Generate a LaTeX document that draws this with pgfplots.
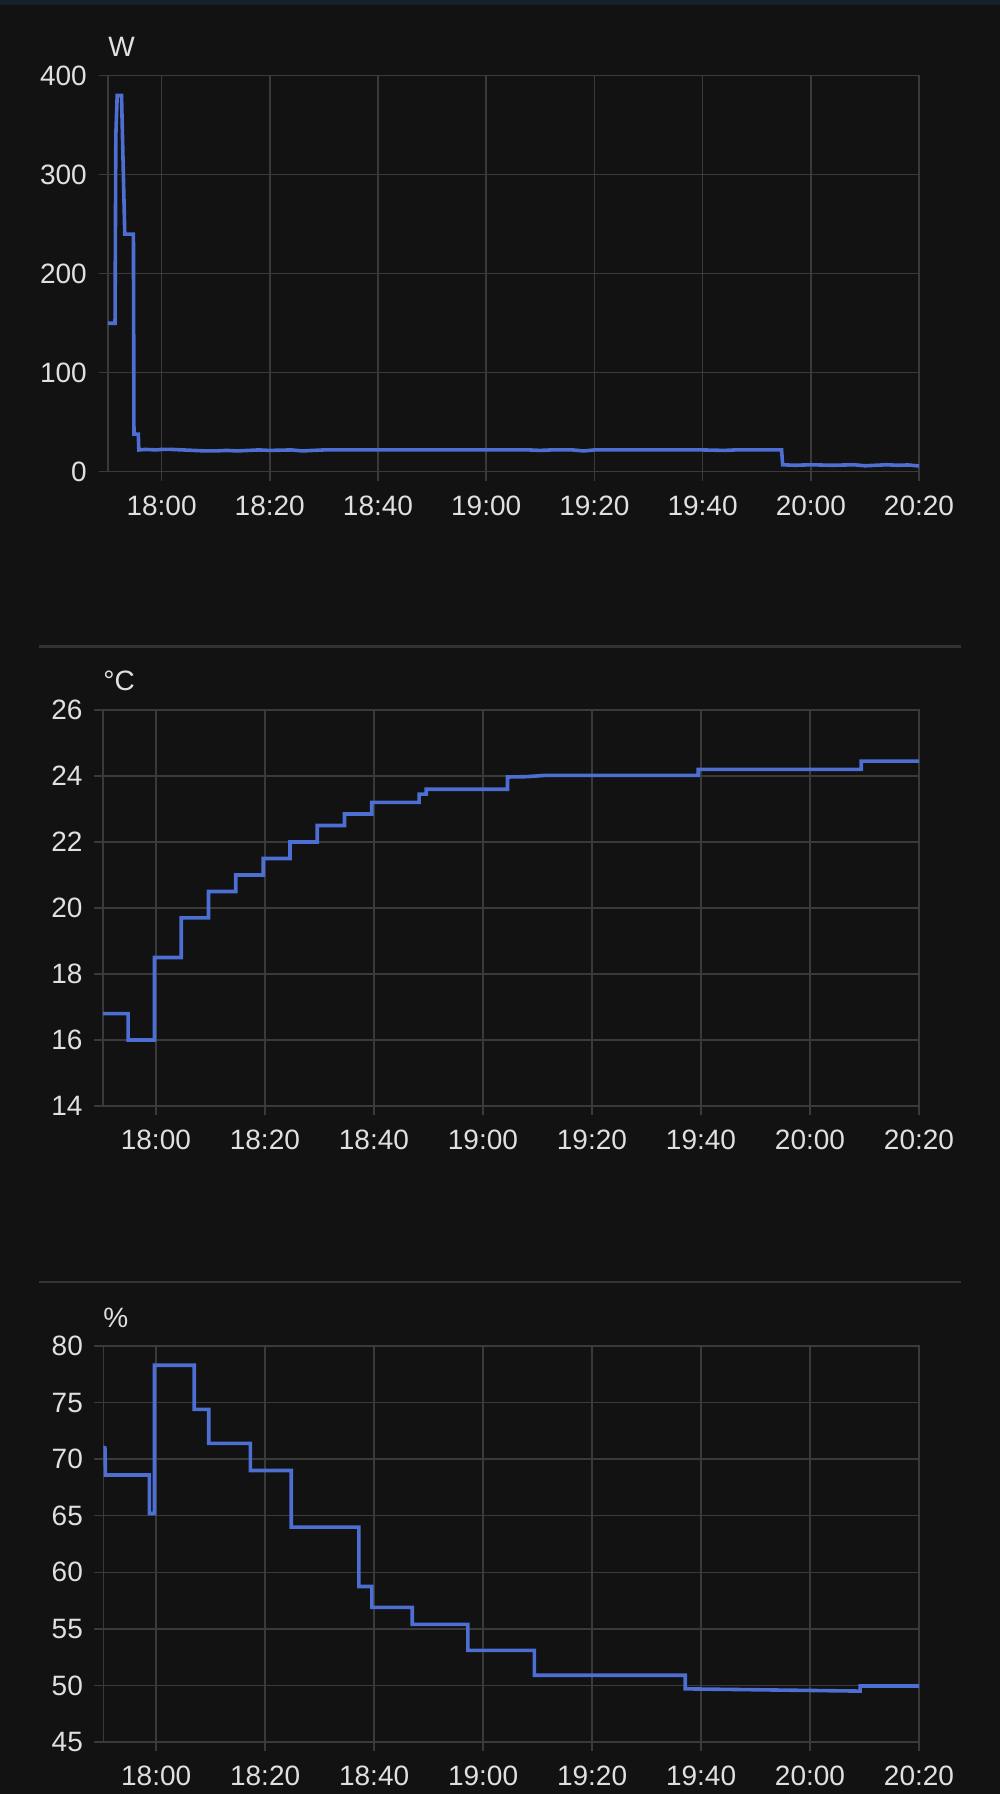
\documentclass[border=0pt]{standalone}
\usepackage{pgfplots}
\pgfplotsset{compat=1.18}
\usepackage{fontspec}
\setmainfont{Liberation Sans}
\definecolor{bgc}{HTML}{121212}
\definecolor{topc}{HTML}{14232A}
\definecolor{gridc}{HTML}{3A3A3A}
\definecolor{sepc}{HTML}{333333}
\definecolor{linec}{HTML}{4D6ED2}
\definecolor{textc}{HTML}{E0E0E0}
\pgfplotsset{
  hastyle/.style={
    scale only axis,
    axis background/.style={fill=bgc},
    axis line style={gridc, line width=0.75pt},
    grid=major,
    major grid style={gridc, line width=0.75pt},
    tick style={gridc, line width=0.75pt},
    major tick length=4.5pt,
    tick align=outside,
    tick pos=left,
    /pgf/number format/assume math mode=true,
    tick label style={font=\fontsize{14}{16}\selectfont, text=textc},
    xmax=140,
    xtick={0,20,40,60,80,100,120,140},
    xticklabels={18:00,18:20,18:40,19:00,19:20,19:40,20:00,20:20},
    xticklabel style={yshift=-4.0pt},
    clip=true,
  }
}
\begin{document}
\begin{tikzpicture}
\fill[bgc] (0pt,0pt) rectangle (500pt,-897pt);
\fill[topc] (0pt,0pt) rectangle (500pt,-2.6pt);
\draw[sepc, line width=1.4pt] (19.5pt,-323.25pt) -- (480.5pt,-323.25pt);
\draw[sepc, line width=1.4pt] (19.5pt,-641pt) -- (480.5pt,-641pt);

% ---------- Power ----------
\begin{axis}[hastyle,
  at={(54pt,-235.85pt)}, anchor=south west,
  width=405.5pt, height=198pt,
  xmin=-9.9, ymin=0, ymax=400,
  ytick={0,100,200,300,400},
  yticklabel style={xshift=-2.6pt},
]
\addplot[linec, line width=1.8pt] coordinates {
(-9.9,150) (-8.6,150) (-8.45,340) (-8.2,380) (-7.4,380) (-6.8,240) (-5.2,240)
(-5.1,38) (-4.3,38) (-4.2,22) (-3,22.5) (-1,22) (0,22.5) (2,22.5) (4,22) (6,21.5)
(8,21) (10,21) (12,21.5) (14,21) (16,21.5) (18,22) (20,21.5) (24,22) (26,21)
(28,21.5) (30,22) (40,22) (50,22) (60,22) (68,22) (70,21.5) (72,22) (76,22) (78,21)
(80,22) (90,22) (100,22) (104,21.5) (106,22) (114.6,22) (114.8,7) (117,6.5)
(120,7) (124,6.5) (128,7) (130,6) (134,7) (136,6.5) (138,6.8) (140,5.8)
};
\end{axis}
\node[anchor=west, text=textc, font=\fontsize{14}{16}\selectfont, inner sep=0pt] at (54pt,-23.2pt) {W};

% ---------- Temperature ----------
\begin{axis}[hastyle,
  at={(51.5pt,-553pt)}, anchor=south west,
  width=408pt, height=198pt,
  xmin=-9.7, ymin=14, ymax=26,
  ytick={14,16,18,20,22,24,26},
  yticklabel style={xshift=-2.2pt},
]
\addplot[linec, line width=1.8pt] coordinates {
(-9.9,16.8) (-5.1,16.8) (-5.1,16.0) (-0.25,16.0) (-0.25,18.5) (4.65,18.5)
(4.65,19.7) (9.65,19.7) (9.65,20.5) (14.65,20.5) (14.65,21.0) (19.7,21.0)
(19.7,21.5) (24.6,21.5) (24.6,22.0) (29.6,22.0) (29.6,22.5) (34.6,22.5)
(34.6,22.85) (39.6,22.85) (39.6,23.2) (48.3,23.2) (48.3,23.45) (49.6,23.45)
(49.6,23.6) (64.5,23.6) (64.5,23.97) (68,23.98) (71.5,24.02) (99.5,24.02)
(99.5,24.2) (129.4,24.2) (129.4,24.45) (140,24.45)
};
\end{axis}
\node[anchor=west, text=textc, font=\fontsize{14}{16}\selectfont, inner sep=0pt] at (51.5pt,-340.6pt) {°C};

% ---------- Humidity ----------
\begin{axis}[hastyle,
  at={(51.65pt,-871pt)}, anchor=south west,
  width=407.85pt, height=198pt,
  xmin=-9.7, ymin=45, ymax=80,
  ytick={45,50,55,60,65,70,75,80},
  yticklabel style={xshift=-2.2pt},
]
\addplot[linec, line width=1.8pt] coordinates {
(-9.9,71.1) (-9.4,71.0) (-9.3,68.6) (-1.25,68.6) (-1.25,65.2) (-0.3,65.2)
(-0.3,78.3) (7.0,78.3) (7.0,74.4) (9.65,74.4) (9.65,71.4) (17.3,71.4)
(17.3,69.0) (24.8,69.0) (24.8,64.0) (37.2,64.0) (37.2,58.75) (39.6,58.75)
(39.6,56.9) (47.0,56.9) (47.0,55.4) (57.2,55.4) (57.2,53.1) (69.4,53.1)
(69.4,50.9) (97.1,50.9) (97.1,49.7) (129.2,49.5) (129.2,49.95) (140,49.95)
};
\end{axis}
\node[anchor=west, text=textc, font=\fontsize{14}{16}\selectfont, inner sep=0pt] at (51.5pt,-658.8pt) {\%};
\end{tikzpicture}
\end{document}
